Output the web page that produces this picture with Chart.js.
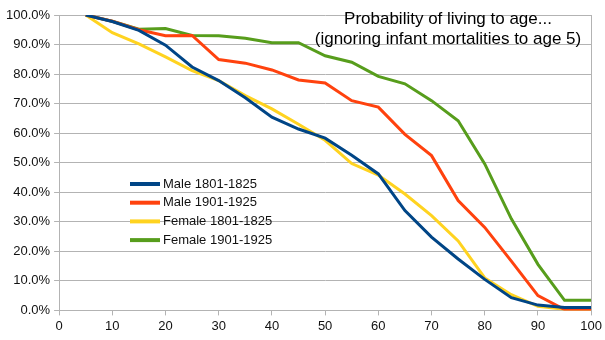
<!DOCTYPE html>
<html>
<head>
<meta charset="utf-8">
<script src="https://cdn.jsdelivr.net/npm/chart.js@4/dist/chart.umd.min.js"></script>
<style>
  html, body { margin: 0; padding: 0; background: #fff; }
  #wrap { width: 605px; height: 340px; }
</style>
</head>
<body>
<div id="wrap"><canvas id="chart"></canvas></div>
<script>
// ages (x) and survival probability in %
var ages = [5, 10, 15, 20, 25, 30, 35, 40, 45, 50, 55, 60, 65, 70, 75, 80, 85, 90, 95, 100];
var male1801 = [100, 97.8, 94.8, 89.8, 82.4, 77.8, 72.0, 65.4, 61.4, 58.3, 52.5, 46.2, 33.8, 24.8, 17.4, 10.5, 4.3, 1.8, 1.0, 1.0];
var male1901 = [100, 97.9, 95.0, 93.0, 93.1, 84.9, 83.7, 81.4, 78.0, 77.0, 71.0, 68.8, 59.6, 52.4, 37.2, 28.1, 16.7, 5.0, 0.3, 0.2];
var female1801 = [100, 94.0, 90.2, 85.8, 81.2, 77.8, 72.7, 68.2, 63.0, 57.6, 49.7, 45.8, 39.4, 32.1, 23.5, 11.0, 5.3, 1.4, 0.4, 0.2];
var female1901 = [100, 97.9, 95.2, 95.4, 93.1, 93.0, 92.1, 90.6, 90.6, 86.2, 84.0, 79.2, 76.7, 71.0, 64.2, 49.6, 31.0, 15.6, 3.4, 3.4];
var seriesNames = ['Male 1801-1825', 'Male 1901-1925', 'Female 1801-1825', 'Female 1901-1925'];
var xTicks = [0, 10, 20, 30, 40, 50, 60, 70, 80, 90, 100];
var yTicks = [0, 10, 20, 30, 40, 50, 60, 70, 80, 90, 100];
var titleLines = ['Probability of living to age...', '(ignoring infant mortalities to age 5)'];

var colors = ['#004586', '#ff420e', '#ffd320', '#579d1c'];
var FONT = '"Liberation Sans", Arial, sans-serif';

function pts(vals) {
    return vals.map(function (v, i) { return { x: ages[i], y: v }; });
}

var allSeries = [male1801, male1901, female1801, female1901];
var datasets = allSeries.map(function (s, i) {
    return {
        label: seriesNames[i],
        data: pts(s),
        borderColor: colors[i],
        backgroundColor: colors[i],
        borderWidth: 3,
        pointRadius: 0,
        tension: 0,
        fill: false
    };
});

// legend + title drawn on top of the plot
var overlay = {
    id: 'overlay',
    afterDatasetsDraw: function (chart) {
        var ctx = chart.ctx;
        ctx.save();
        ctx.fillStyle = '#000';
        ctx.font = '17px ' + FONT;
        ctx.textAlign = 'center';
        ctx.textBaseline = 'middle';
        ctx.fillText(titleLines[0], 448, 19);
        ctx.fillText(titleLines[1], 448, 39);

        ctx.font = '13px ' + FONT;
        ctx.textAlign = 'left';
        chart.data.datasets.forEach(function (ds, i) {
            var y = 184 + i * 18.7;
            ctx.strokeStyle = ds.borderColor;
            ctx.lineWidth = 4;
            ctx.beginPath();
            ctx.moveTo(130, y);
            ctx.lineTo(160, y);
            ctx.stroke();
            ctx.fillStyle = '#111';
            ctx.fillText(ds.label, 163, y);
        });
        ctx.restore();
    }
};

new Chart(document.getElementById('chart'), {
    type: 'line',
    data: { datasets: datasets },
    options: {
        responsive: true,
        maintainAspectRatio: false,
        animation: false,
        layout: { padding: { left: 2, right: 12, top: 15, bottom: 3 } },
        plugins: {
            legend: { display: false },
            title: { display: false },
            tooltip: { enabled: false }
        },
        scales: {
            x: {
                type: 'linear',
                min: 0,
                max: 100,
                afterBuildTicks: function (axis) {
                    axis.ticks = xTicks.map(function (v) { return { value: v }; });
                },
                border: { display: true, color: '#b3b3b3', width: 1 },
                grid: {
                    drawOnChartArea: true,
                    color: function (c) { return c.tick && c.tick.value === 100 ? '#b3b3b3' : 'rgba(0,0,0,0)'; },
                    tickColor: '#b3b3b3',
                    tickLength: 5
                },
                ticks: {
                    color: '#111',
                    font: { family: FONT, size: 13 },
                    padding: 3,
                    maxRotation: 0
                }
            },
            y: {
                min: 0,
                max: 100,
                afterBuildTicks: function (axis) {
                    axis.ticks = yTicks.map(function (v) { return { value: v }; });
                },
                border: { display: true, color: '#b3b3b3', width: 1 },
                grid: {
                    color: '#b3b3b3',
                    tickColor: '#b3b3b3',
                    tickLength: 5
                },
                ticks: {
                    color: '#111',
                    font: { family: FONT, size: 13 },
                    padding: 4,
                    callback: function (v) { return v.toFixed(1) + '%'; }
                }
            }
        }
    },
    plugins: [overlay]
});
</script>
</body>
</html>
